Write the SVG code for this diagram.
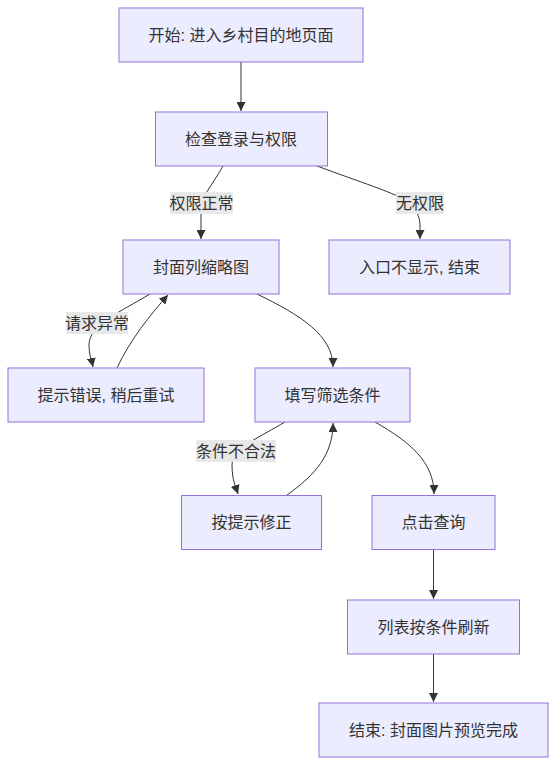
<svg xmlns="http://www.w3.org/2000/svg" width="556" height="766" viewBox="0 0 556 766">
<style>
.node rect{fill:#ECECFF;stroke:#9370DB;stroke-width:1}
text{font-family:"Liberation Sans","Noto Sans CJK SC",sans-serif;font-size:16px;fill:#333;text-anchor:middle;dominant-baseline:central}
.edge{fill:none;stroke:#333;stroke-width:1}
.lbl rect{fill:#e8e8e8}
</style>
<defs>
<marker id="arr" viewBox="0 0 10 10" refX="10" refY="5" markerWidth="9" markerHeight="9" markerUnits="userSpaceOnUse" orient="auto">
<path d="M0,0 L10,5 L0,10 z" fill="#333"/>
</marker>
</defs>
<rect width="556" height="766" fill="#fff"/>
<g id="edges">
<path class="edge" d="M241,62 L241,111" marker-end="url(#arr)"/>
<path class="edge" d="M223,166 C212,186 201,196 201,210 L201,239" marker-end="url(#arr)"/>
<path class="edge" d="M317,166 C360,182 392,192 405,200 C416,208 420,216 420,226 L420,239" marker-end="url(#arr)"/>
<path class="edge" d="M150,294 C120,312 89,325 89,345 C89,355 92,362 93,367" marker-end="url(#arr)"/>
<path class="edge" d="M117,368 C130,340 150,315 168,295" marker-end="url(#arr)"/>
<path class="edge" d="M257,294 C300,315 333,335 333,367" marker-end="url(#arr)"/>
<path class="edge" d="M285,422 C262,436 232,448 232,465 C232,480 236,488 238,494" marker-end="url(#arr)"/>
<path class="edge" d="M287,495 C315,475 333,455 333,423" marker-end="url(#arr)"/>
<path class="edge" d="M375,422 C410,442 434,462 434,494" marker-end="url(#arr)"/>
<path class="edge" d="M433.5,549 L433.5,599" marker-end="url(#arr)"/>
<path class="edge" d="M433.5,654 L433.5,702" marker-end="url(#arr)"/>
<g class="lbl"><rect x="170" y="192" width="63" height="22"/><text x="201.5" y="203">权限正常</text></g>
<g class="lbl"><rect x="396" y="192" width="48" height="22"/><text x="420" y="203">无权限</text></g>
<g class="lbl"><rect x="66" y="312" width="62" height="22"/><text x="97" y="323">请求异常</text></g>
<g class="lbl"><rect x="196" y="440" width="80" height="22"/><text x="236" y="451">条件不合法</text></g>
</g>
<g id="A" class="node"><rect x="119" y="8" width="244" height="54"/><text x="241" y="35">开始: 进入乡村目的地页面</text></g>
<g id="B" class="node"><rect x="155.5" y="112" width="172" height="54"/><text x="241" y="139">检查登录与权限</text></g>
<g id="C" class="node"><rect x="123" y="240" width="156" height="54"/><text x="201" y="267">封面列缩略图</text></g>
<g id="D" class="node"><rect x="329" y="240" width="181" height="54"/><text x="419.5" y="267">入口不显示, 结束</text></g>
<g id="E" class="node"><rect x="8" y="368" width="196" height="54"/><text x="106" y="395">提示错误, 稍后重试</text></g>
<g id="F" class="node"><rect x="255" y="368" width="155" height="54"/><text x="332.5" y="395">填写筛选条件</text></g>
<g id="G" class="node"><rect x="181.5" y="495.5" width="140" height="54"/><text x="251.5" y="522.5">按提示修正</text></g>
<g id="H" class="node"><rect x="372" y="495.5" width="123" height="54"/><text x="433.5" y="522.5">点击查询</text></g>
<g id="I" class="node"><rect x="347.5" y="600" width="172" height="54"/><text x="433.5" y="627">列表按条件刷新</text></g>
<g id="J" class="node"><rect x="319" y="703" width="229" height="54"/><text x="433.5" y="730">结束: 封面图片预览完成</text></g>
</svg>
